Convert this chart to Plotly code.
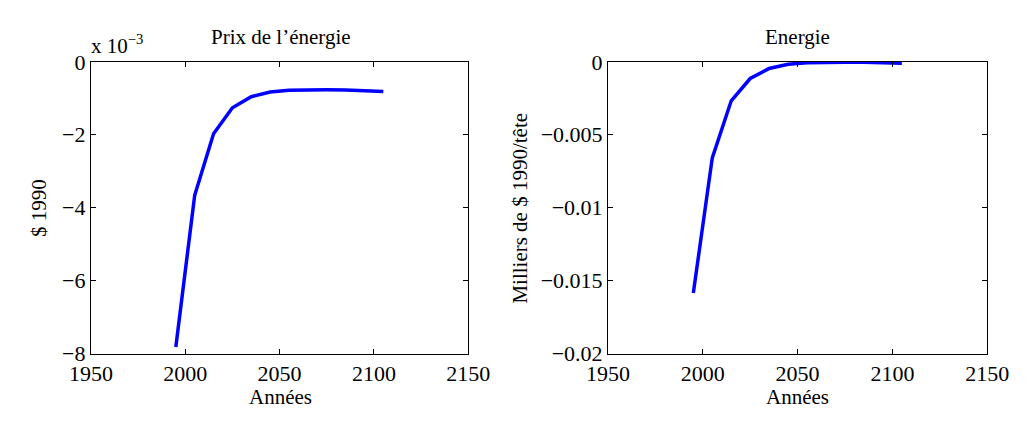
import plotly.graph_objects as go

years = [1995, 2005, 2015, 2025, 2035, 2045, 2055, 2065, 2075, 2085, 2095, 2105]
# Prix de l'énergie ($ 1990), values in units of 1e-3
prix_energie_e3 = [-7.82, -3.66, -1.97, -1.26, -0.955, -0.826, -0.78, -0.766, -0.766, -0.77, -0.78, -0.81]
# Energie (Milliers de $ 1990/tête)
energie = [-0.01585, -0.00658, -0.00267, -0.00114, -0.00045, -0.00017, -0.00006, -0.00003,
           -0.00002, -0.00003, -0.00005, -0.0001]

x_ticks = [1950, 2000, 2050, 2100, 2150]
left_y_ticks = [0, -2, -4, -6, -8]
left_y_labels = ["0", "\u22122", "\u22124", "\u22126", "\u22128"]
right_y_ticks = [0, -0.005, -0.01, -0.015, -0.02]
right_y_labels = ["0", "\u22120.005", "\u22120.01", "\u22120.015", "\u22120.02"]

FONT = "Liberation Serif, Times New Roman, serif"
BLUE = "#0000ff"

fig = go.Figure()
fig.add_trace(go.Scatter(x=years, y=prix_energie_e3, mode="lines",
                         line=dict(color=BLUE, width=3.5), xaxis="x", yaxis="y"))
fig.add_trace(go.Scatter(x=years, y=energie, mode="lines",
                         line=dict(color=BLUE, width=3.5), xaxis="x2", yaxis="y2"))

ax_common = dict(showline=True, linecolor="black", linewidth=1, mirror="ticks",
                 ticks="inside", ticklen=5, tickcolor="black", tickwidth=1,
                 showgrid=False, zeroline=False,
                 tickfont=dict(family=FONT, size=22, color="black"))

x0a, x1a = 72 / 1036, 466 / 1036
x0b, x1b = 612 / 1036, 1008 / 1036
y0, y1 = 60 / 423, 370 / 423

fig.update_layout(
    width=1036, height=423,
    margin=dict(l=0, r=0, t=0, b=0),
    paper_bgcolor="white", plot_bgcolor="white",
    showlegend=False,
    font=dict(family=FONT, color="black"),
    xaxis=dict(domain=[x0a, x1a], range=[1950, 2150], tickvals=x_ticks, anchor="y", **ax_common),
    yaxis=dict(domain=[y0, y1], range=[-8, 0], tickvals=left_y_ticks, ticktext=left_y_labels,
               anchor="x", **ax_common),
    xaxis2=dict(domain=[x0b, x1b], range=[1950, 2150], tickvals=x_ticks, anchor="y2", **ax_common),
    yaxis2=dict(domain=[y0, y1], range=[-0.02, 0], tickvals=right_y_ticks, ticktext=right_y_labels,
                anchor="x2", **ax_common),
)

def ann(text, x, y, size=21, angle=0, xanchor="center", yanchor="middle"):
    fig.add_annotation(text=text, x=x, y=y, xref="paper", yref="paper", showarrow=False,
                       textangle=angle, xanchor=xanchor, yanchor=yanchor,
                       font=dict(family=FONT, size=size, color="black"))

ann("Prix de l\u2019énergie", 270 / 1036, 1 - 27 / 423)
ann("Energie", 810 / 1036, 1 - 27 / 423)
ann("x 10<sup>\u22123</sup>", 70 / 1036, 1 - 35 / 423, size=21, xanchor="left")
ann("$ 1990", 17 / 1036, 1 - 208 / 423, angle=-90)
ann("Milliers de $ 1990/tête", 520 / 1036, 1 - 208 / 423, angle=-90)
ann("Années", 270 / 1036, 1 - 409 / 423)
ann("Années", 810 / 1036, 1 - 409 / 423)

fig.write_html("out.html")
